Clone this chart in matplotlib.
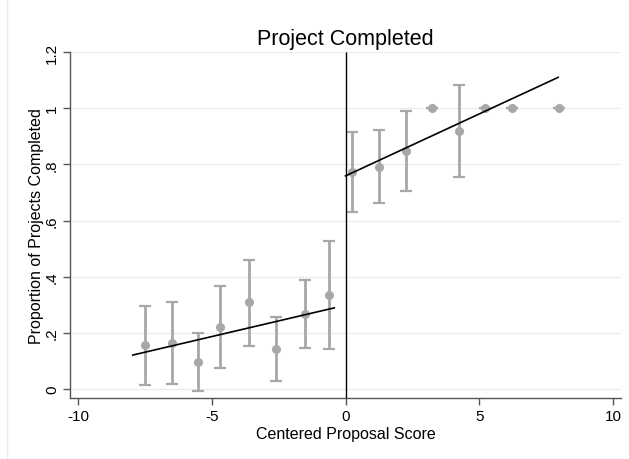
import matplotlib.pyplot as plt
from matplotlib.lines import Line2D

plt.rcParams['font.family'] = ['Liberation Sans', 'DejaVu Sans']
plt.rcParams['axes.unicode_minus'] = False

# binned means below the cutoff
left_x = [-7.5, -6.5, -5.5, -4.7, -3.6, -2.6, -1.5, -0.6]
left_y = [0.157, 0.164, 0.097, 0.222, 0.309, 0.141, 0.267, 0.336]
left_lo = [0.015, 0.017, -0.006, 0.076, 0.154, 0.027, 0.147, 0.142]
left_hi = [0.295, 0.309, 0.198, 0.367, 0.460, 0.255, 0.388, 0.528]

# binned means above the cutoff
right_x = [0.26, 1.26, 2.26, 3.25, 4.24, 5.22, 6.22, 7.97]
right_y = [0.773, 0.791, 0.848, 1.0, 0.918, 1.0, 1.0, 1.0]
right_lo = [0.632, 0.661, 0.707, 1.0, 0.756, 1.0, 1.0, 1.0]
right_hi = [0.915, 0.922, 0.989, 1.0, 1.083, 1.0, 1.0, 1.0]

# linear fits
fit_left_x = [-7.95, -0.42]
fit_left_y = [0.121, 0.289]
fit_right_x = [0.0, 7.95]
fit_right_y = [0.759, 1.11]

xticks = [-10, -5, 0, 5, 10]
yticks = [0, 0.2, 0.4, 0.6, 0.8, 1.0, 1.2]
ytick_labels = ['0', '.2', '.4', '.6', '.8', '1', '1.2']

gray = '#a8a8a8'
grid = '#e6eef0'

fig = plt.figure(figsize=(6.29, 4.60), dpi=100)
ax = fig.add_axes([0.1113, 0.1326, 0.876, 0.752])

ymin, ymax = -0.032, 1.2
ax.set_xlim(-10.3, 10.3)
ax.set_ylim(ymin, ymax)

for y in yticks:
    ax.axhline(y, color=grid, lw=1.0, zorder=0)

for xs, ys, lo, hi in [(left_x, left_y, left_lo, left_hi),
                       (right_x, right_y, right_lo, right_hi)]:
    err = [[y - l for y, l in zip(ys, lo)], [h - y for y, h in zip(ys, hi)]]
    ax.errorbar(xs, ys, yerr=err, fmt='o', color=gray, ecolor=gray,
                elinewidth=2.0, capsize=4, capthick=1.6, markersize=5.5,
                zorder=2)

ax.plot(fit_left_x, fit_left_y, color='black', lw=1.2, zorder=3)
ax.plot(fit_right_x, fit_right_y, color='black', lw=1.2, zorder=3)
ax.vlines(0, ymin, 1.2, color='black', lw=1.0, zorder=3)

ax.set_xticks(xticks)
ax.set_yticks(yticks)
ax.set_yticklabels(ytick_labels, rotation=90, va='center')
ax.tick_params(axis='both', direction='out', length=5, width=1,
               color='#555555', labelsize=11, pad=3)

for s in ['top', 'right']:
    ax.spines[s].set_visible(False)
for s in ['left', 'bottom']:
    ax.spines[s].set_color('#555555')
    ax.spines[s].set_linewidth(1.0)

ax.set_title('Project Completed', fontsize=15.5, pad=6)
ax.set_xlabel('Centered Proposal Score', fontsize=11.5, labelpad=2)
ax.set_ylabel('Proportion of Projects Completed', fontsize=11.5, labelpad=1)

# faint outer border on the left
fig.add_artist(Line2D([0.011, 0.011], [0.0, 1.0], color=grid, lw=1.0,
                      transform=fig.transFigure))

fig.savefig('out.png', dpi=100)
